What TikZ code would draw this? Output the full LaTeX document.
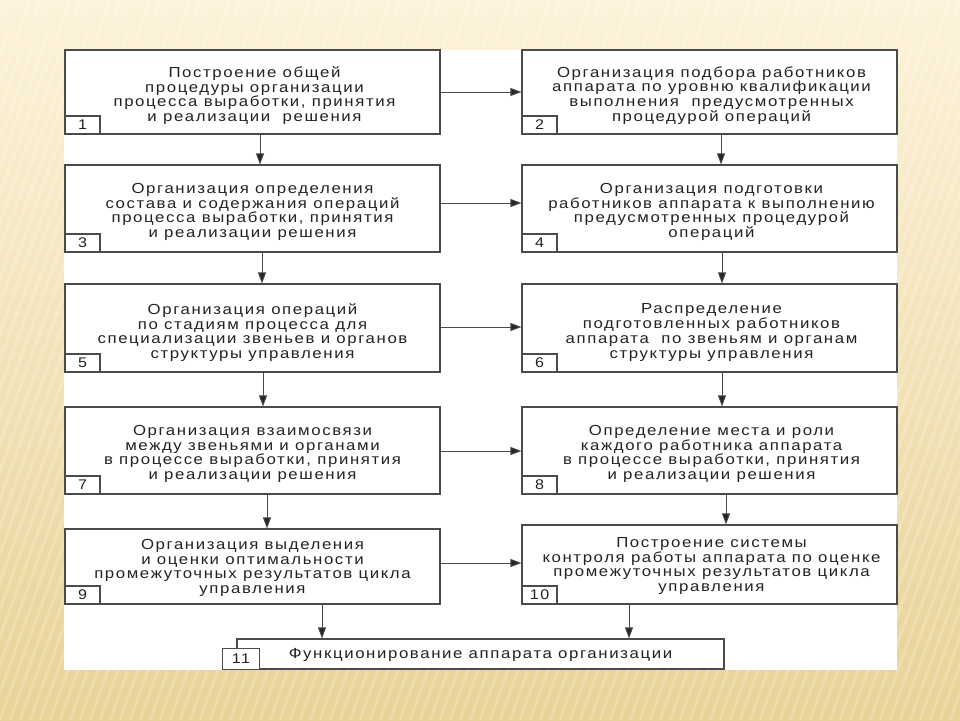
\documentclass[tikz,border=0pt]{standalone}
\usepackage{fontspec}
\usetikzlibrary{arrows.meta,calc}
\newfontfamily\boxfont[FakeStretch=1.15,LetterSpace=11]{Liberation Sans}
\definecolor{bgtop}{RGB}{253,243,218}
\definecolor{bgbot}{RGB}{232,210,150}
\definecolor{txt}{RGB}{35,35,35}
\definecolor{brd}{RGB}{75,75,75}
\begin{document}
\begin{tikzpicture}[x=1pt,y=-1pt,
  box/.style={draw=brd, line width=1.1pt, fill=white, minimum width=375pt, inner sep=0pt},
  boxtext/.style={align=center, text=txt, inner sep=0pt, font=\boxfont\fontsize{14.6}{14.8}\selectfont},
  numbox/.style={draw=brd, line width=1.1pt, fill=white, minimum width=35pt, minimum height=18pt,
    inner sep=0pt, text=txt, font=\boxfont\fontsize{14}{14}\selectfont, anchor=south west},
  arr/.style={draw=brd, line width=0.9pt, -{Triangle[length=11pt,width=8pt,fill=black!85]}}]
\useasboundingbox (0,0) rectangle (960,720);
% background
\shade[top color=bgtop, bottom color=bgbot] (0,0) rectangle (960,720);
\foreach \i in {-300,-290,...,960}
  \draw[white, opacity=0.2, line width=3pt] (\i,720) -- ($(\i,720)+(260,-720)$);
% panel
\fill[white] (64,50) rectangle (897,670);
% boxes
\node[box, minimum height=84pt] (b1) at (252.5,92) {};
\node[box, minimum height=84pt] (b2) at (709.5,92) {};
\node[box, minimum height=87pt] (b3) at (252.5,208.5) {};
\node[box, minimum height=87pt] (b4) at (709.5,208.5) {};
\node[box, minimum height=88pt] (b5) at (252.5,328) {};
\node[box, minimum height=88pt] (b6) at (709.5,328) {};
\node[box, minimum height=87pt] (b7) at (252.5,450.5) {};
\node[box, minimum height=87pt] (b8) at (709.5,450.5) {};
\node[box, minimum height=75pt] (b9) at (252.5,566.5) {};
\node[box, minimum height=79pt] (b10) at (709.5,564.5) {};
\node[box, minimum width=487pt, minimum height=30pt] (b11) at (480.5,654) {};
% texts
\node[boxtext] (t1) at ($(b1.center)+(2,3.5)$) {Построение общей\\процедуры организации\\процесса выработки, принятия\\и реализации\ \ решения};
\node[boxtext] (t2) at ($(b2.center)+(2,3.5)$) {Организация подбора работников\\аппарата по уровню квалификации\\выполнения\ \ предусмотренных\\процедурой операций};
\node[boxtext] (t3) at ($(b3.center)+(0,3.5)$) {Организация определения\\состава и содержания операций\\процесса выработки, принятия\\и реализации решения};
\node[boxtext] (t4) at ($(b4.center)+(2,3.5)$) {Организация подготовки\\работников аппарата к выполнению\\предусмотренных процедурой\\операций};
\node[boxtext] (t5) at ($(b5.center)+(0,4.5)$) {Организация операций\\по стадиям процесса для\\специализации звеньев и органов\\структуры управления};
\node[boxtext] (t6) at ($(b6.center)+(2,4.5)$) {Распределение\\подготовленных работников\\аппарата\ \ по звеньям и органам\\структуры управления};
\node[boxtext] (t7) at ($(b7.center)+(0,3.5)$) {Организация взаимосвязи\\между звеньями и органами\\в процессе выработки, принятия\\и реализации решения};
\node[boxtext] (t8) at ($(b8.center)+(2,3.5)$) {Определение места и роли\\каждого работника аппарата\\в процессе выработки, принятия\\и реализации решения};
\node[boxtext] (t9) at ($(b9.center)+(0,1.5)$) {Организация выделения\\и оценки оптимальности\\промежуточных результатов цикла\\управления};
\node[boxtext] (t10) at ($(b10.center)+(2,1.5)$) {Построение системы\\контроля работы аппарата по оценке\\промежуточных результатов цикла\\управления};
\node[boxtext] (t11) at ($(b11.center)+(0,1)$) {Функционирование аппарата организации};
% number boxes
\node[numbox] (n1) at (b1.south west) {1};
\node[numbox] (n2) at (b2.south west) {2};
\node[numbox] (n3) at (b3.south west) {3};
\node[numbox] (n4) at (b4.south west) {4};
\node[numbox] (n5) at (b5.south west) {5};
\node[numbox] (n6) at (b6.south west) {6};
\node[numbox] (n7) at (b7.south west) {7};
\node[numbox] (n8) at (b8.south west) {8};
\node[numbox] (n9) at (b9.south west) {9};
\node[numbox] (n10) at (b10.south west) {10};
\coordinate (c11) at (222,670);
\node[numbox, minimum width=37pt, minimum height=21pt] (n11) at (c11) {11};
% coordinates for connectors
\coordinate (h1) at (0,92);
\coordinate (h2) at (0,203);
\coordinate (h3) at (0,327);
\coordinate (h4) at (0,451);
\coordinate (h5) at (0,563);
\coordinate (v1) at (260,0);
\coordinate (v3) at (262,0);
\coordinate (v5) at (263,0);
\coordinate (v7) at (267,0);
\coordinate (v9) at (322,0);
\coordinate (v2) at (721,0);
\coordinate (v4) at (722,0);
\coordinate (v6) at (722,0);
\coordinate (v8) at (726,0);
\coordinate (v10) at (629,0);
% horizontal arrows
\draw[arr] (b1.east |- h1) -- (b2.west |- h1);
\draw[arr] (b3.east |- h2) -- (b4.west |- h2);
\draw[arr] (b5.east |- h3) -- (b6.west |- h3);
\draw[arr] (b7.east |- h4) -- (b8.west |- h4);
\draw[arr] (b9.east |- h5) -- (b10.west |- h5);
% vertical arrows
\draw[arr] (b1.south -| v1) -- (b3.north -| v1);
\draw[arr] (b3.south -| v3) -- (b5.north -| v3);
\draw[arr] (b5.south -| v5) -- (b7.north -| v5);
\draw[arr] (b7.south -| v7) -- (b9.north -| v7);
\draw[arr] (b9.south -| v9) -- (b11.north -| v9);
\draw[arr] (b2.south -| v2) -- (b4.north -| v2);
\draw[arr] (b4.south -| v4) -- (b6.north -| v4);
\draw[arr] (b6.south -| v6) -- (b8.north -| v6);
\draw[arr] (b8.south -| v8) -- (b10.north -| v8);
\draw[arr] (b10.south -| v10) -- (b11.north -| v10);
\end{tikzpicture}
\end{document}
